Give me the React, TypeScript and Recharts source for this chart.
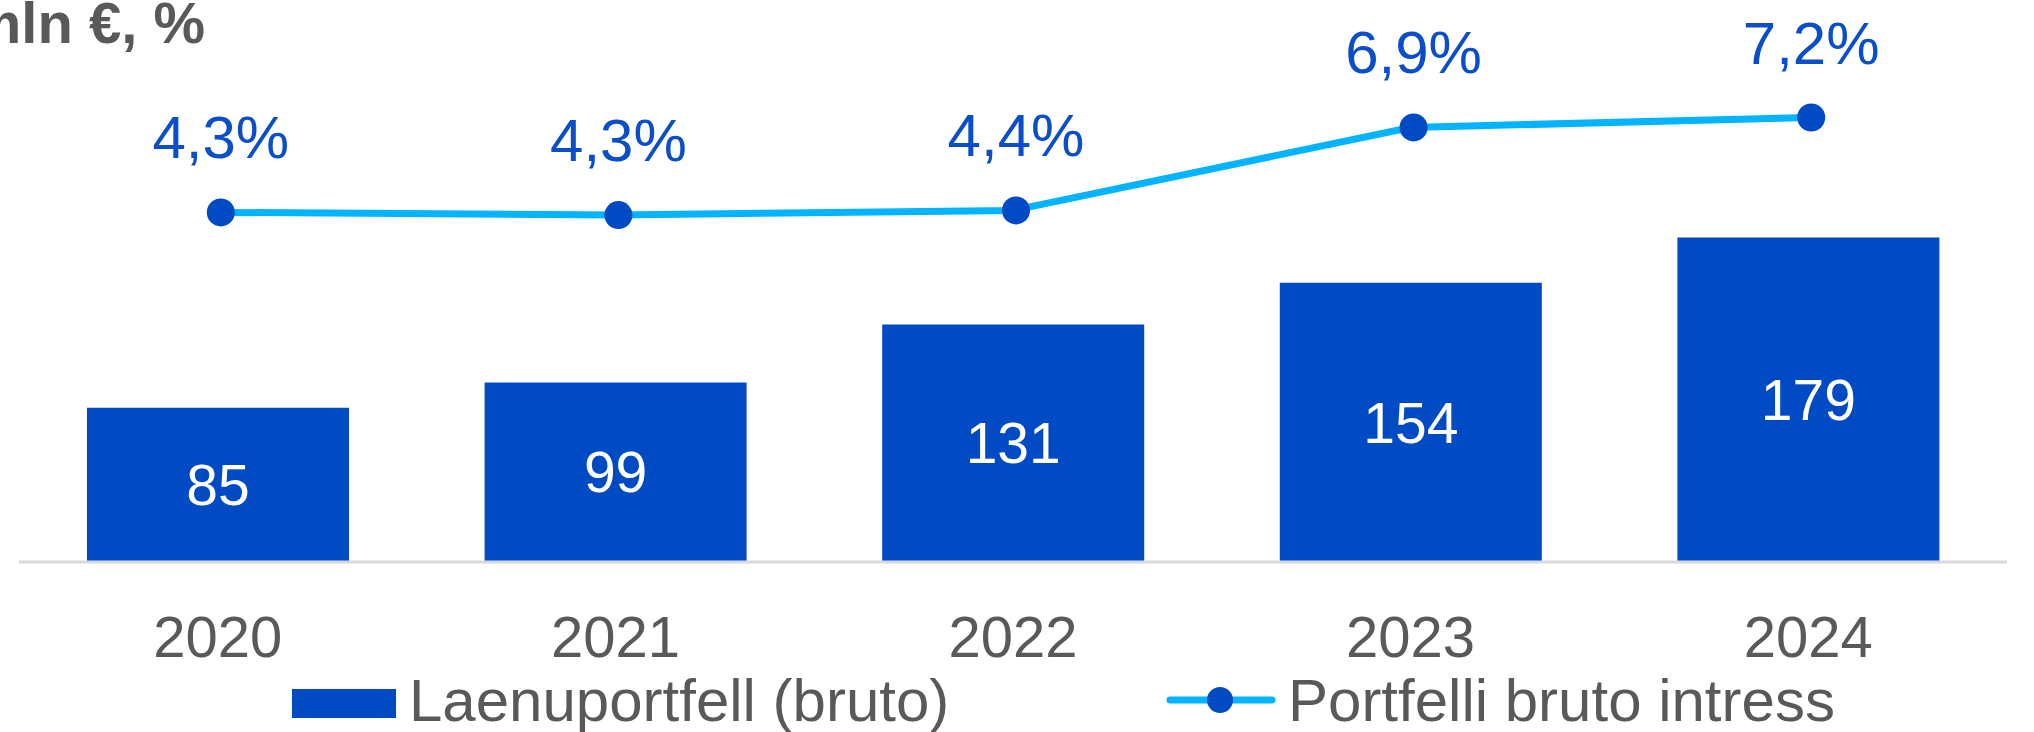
import { ComposedChart, Bar, Line, XAxis, YAxis, LabelList, Legend } from "recharts";

const years = ["2020", "2021", "2022", "2023", "2024"];
const loanPortfolio = [85, 99, 131, 154, 179];
const grossInterest = [4.34, 4.26, 4.4, 6.9, 7.2];

const data = years.map((year, i) => ({
  year,
  loans: loanPortfolio[i],
  rate: grossInterest[i],
}));

const BLUE = "#004bc4";
const CYAN = "#00b4ff";
const GREY = "#595959";
const FONT = "'Liberation Sans', Arial, sans-serif";

const fmtPct = (v: number) => v.toFixed(1).replace(".", ",") + "%";

function YearTick(props: any) {
  const { x, y, payload } = props;
  return (
    <text x={x} y={y + 95} textAnchor="middle" fontSize={58} fill={GREY} fontFamily={FONT}>
      {payload.value}
    </text>
  );
}

function PctLabel(props: any) {
  const { x, y, value } = props;
  return (
    <text x={x + 3} y={y - 54} textAnchor="middle" fontSize={60} fill="#0a4fc9" fontFamily={FONT}>
      {fmtPct(value)}
    </text>
  );
}

function RateDot(props: any) {
  const { cx, cy } = props;
  return <circle cx={cx + 3} cy={cy} r={14} fill={BLUE} />;
}

function LegendBox() {
  return (
    <svg width={2034} height={70} style={{ display: "block", overflow: "visible" }}>
      <rect x={292} y={27} width={104} height={29} fill={BLUE} />
      <text x={409} y={59} fontSize={60} fill={GREY} fontFamily={FONT}>
        Laenuportfell (bruto)
      </text>
      <line x1={1170} y1={38} x2={1272} y2={38} stroke={CYAN} strokeWidth={7} strokeLinecap="round" />
      <circle cx={1220} cy={38} r={13} fill={BLUE} />
      <text x={1288} y={59} fontSize={60} fill={GREY} fontFamily={FONT}>
        Portfelli bruto intress
      </text>
    </svg>
  );
}

export default function App() {
  return (
    <div style={{ position: "absolute", left: 0, top: 0, width: 2034, height: 732, background: "#fff", overflow: "hidden" }}>
      <ComposedChart
        width={2034}
        height={732}
        data={data}
        margin={{ top: 18, right: 27, left: 19, bottom: 0 }}
      >
        <XAxis
          dataKey="year"
          height={100}
          tickLine={false}
          tickSize={0}
          tickMargin={0}
          axisLine={{ stroke: "#d9d9d9", strokeWidth: 3 }}
          tick={<YearTick />}
        />
        <YAxis yAxisId="left" hide domain={[0, 300]} />
        <YAxis yAxisId="right" hide orientation="right" domain={[-6.2, 10.2]} />
        <Legend verticalAlign="bottom" wrapperStyle={{ left: 0, bottom: 0, width: 2034, height: 70 }} content={() => <LegendBox />} />
        <Bar yAxisId="left" dataKey="loans" fill={BLUE} barSize={262} isAnimationActive={false}>
          <LabelList dataKey="loans" position="center" fill="#fff" fontSize={57} fontFamily={FONT} />
        </Bar>
        <Line
          yAxisId="right"
          dataKey="rate"
          type="linear"
          stroke={CYAN}
          strokeWidth={7}
          dot={<RateDot />}
          activeDot={false}
          isAnimationActive={false}
        >
          <LabelList dataKey="rate" content={<PctLabel />} />
        </Line>
      </ComposedChart>
      <svg width={2034} height={80} style={{ position: "absolute", left: 0, top: 0, pointerEvents: "none" }}>
        <text x={205} y={43} textAnchor="end" fontSize={58} fontWeight="bold" fill={GREY} fontFamily={FONT}>
          mln €, %
        </text>
      </svg>
    </div>
  );
}
